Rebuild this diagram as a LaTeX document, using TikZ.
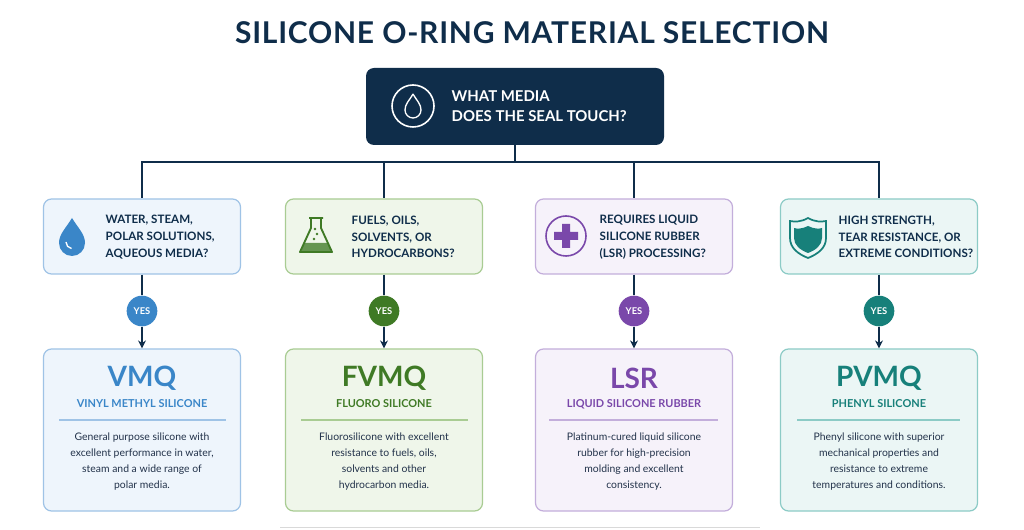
\documentclass[tikz,border=0pt]{standalone}
\usepackage{fontspec}
\setmainfont{Lato}
\usetikzlibrary{arrows.meta,positioning}

\definecolor{navy}{HTML}{0F2D4A}
\definecolor{ink}{HTML}{22324A}
\definecolor{cblue}{HTML}{3A86C8}
\definecolor{fblue}{HTML}{EEF5FC}
\definecolor{bblue}{HTML}{9FC3E6}
\definecolor{cgreen}{HTML}{3F7A25}
\definecolor{fgreen}{HTML}{EFF6EA}
\definecolor{bgreen}{HTML}{A9CC93}
\definecolor{cpurple}{HTML}{7A48AA}
\definecolor{fpurple}{HTML}{F6F2FA}
\definecolor{bpurple}{HTML}{C3AEDB}
\definecolor{cteal}{HTML}{17807A}
\definecolor{fteal}{HTML}{EBF6F5}
\definecolor{bteal}{HTML}{8CCBC6}

\tikzset{
  qbox/.style={draw=b#1, fill=f#1, line width=0.9pt, rounded corners=6pt,
    minimum width=147.75pt, minimum height=56.25pt},
  rbox/.style={draw=b#1, fill=f#1, line width=0.9pt, rounded corners=6pt,
    minimum width=147.75pt, minimum height=121.5pt},
  qtext/.style={anchor=west, align=left, text=navy, font=\bfseries\fontsize{8.7}{12.6}\selectfont},
  yes/.style={circle, fill=c#1, text=white, minimum size=23pt, inner sep=0pt,
    font=\bfseries\fontsize{7}{8}\selectfont},
  mat/.style={text=c#1, font=\bfseries\fontsize{21}{24}\selectfont},
  sub/.style={text=c#1, font=\bfseries\fontsize{8.2}{9}\selectfont},
  desc/.style={text=ink, align=center, font=\fontsize{7.8}{12}\selectfont},
  link/.style={draw=navy, line width=1pt},
}

\begin{document}
\begin{tikzpicture}[x=0.75pt,y=-0.75pt]
\useasboundingbox (0,0) rectangle (1024,530);
\fill[white] (0,0) rectangle (1024,530);

% title
\node[text=navy, font=\bfseries\fontsize{22.5}{26}\selectfont\addfontfeatures{LetterSpace=2.5}] (title) at (532,33) {SILICONE O-RING MATERIAL SELECTION};

% top question
\node[fill=navy, rounded corners=6pt, minimum width=223.5pt, minimum height=57.75pt] (top) at (515,106.5) {};
\draw[white, line width=1.2pt] (413,106) circle[radius=15.75pt];
\draw[white, line width=1pt] (413,94) .. controls (417,101) and (421,104) .. (421,110) arc[start angle=0,end angle=-180,radius=6pt] .. controls (405,104) and (409,101) .. (413,94);
\node[anchor=west, align=left, text=white, font=\bfseries\fontsize{11.2}{15}\selectfont] (topq) at (447,106) {WHAT MEDIA\\DOES THE SEAL TOUCH?};

% question boxes
\node[qbox=blue] (q1) at (142,236.5) {};
\node[qbox=green] (q2) at (384,236.5) {};
\node[qbox=purple] (q3) at (634,236.5) {};
\node[qbox=teal] (q4) at (879,236.5) {};

\node[qtext] (q1t) at (101,237) {WATER, STEAM,\\POLAR SOLUTIONS,\\AQUEOUS MEDIA?};
\node[qtext] (q2t) at (347,237) {FUELS, OILS,\\SOLVENTS, OR\\HYDROCARBONS?};
\node[qtext] (q3t) at (595,237) {REQUIRES LIQUID\\SILICONE RUBBER\\(LSR) PROCESSING?};
\node[qtext] (q4t) at (834,237) {HIGH STRENGTH,\\TEAR RESISTANCE, OR\\EXTREME CONDITIONS?};

% icons
\fill[cblue] (72,218) .. controls (78,228) and (85,234) .. (85,243) arc[start angle=0,end angle=-180,radius=9.75pt] .. controls (59,234) and (66,228) .. (72,218);
\draw[white, line width=1pt] (66,242) arc[start angle=180,end angle=260,radius=5pt];
\fill[cgreen!80] (304,243) -- (328,243) -- (331,252) -- (301,252) -- cycle;
\draw[cgreen, line width=1.4pt, line join=round] (309,218) -- (323,218) (311,218) -- (311,228) -- (300,252) -- (332,252) -- (321,228) -- (321,218);
\fill[cgreen] (315,229) circle[radius=1pt] (317,234) circle[radius=1pt] (314,239) circle[radius=1pt];
\draw[cpurple, line width=1.2pt] (566,236) circle[radius=15pt];
\fill[cpurple] (562,224) rectangle (570,248) (554,232) rectangle (578,240);
\fill[cteal] (808,226) .. controls (814,229) and (819,229) .. (822,228) -- (822,238) .. controls (822,245) and (816,250) .. (808,253) .. controls (800,250) and (794,245) .. (794,238) -- (794,228) .. controls (797,229) and (802,229) .. (808,226) -- cycle;
\draw[cteal, line width=1.3pt] (808,218) .. controls (815,222) and (821,222) .. (826,221) -- (826,238) .. controls (826,248) and (818,254) .. (808,258) .. controls (798,254) and (790,248) .. (790,238) -- (790,221) .. controls (795,222) and (801,222) .. (808,218) -- cycle;

% yes markers
\node[yes=blue] (y1) at (142,311) {YES};
\node[yes=green] (y2) at (384,311) {YES};
\node[yes=purple] (y3) at (634,311) {YES};
\node[yes=teal] (y4) at (879,311) {YES};

% result boxes
\node[rbox=blue] (r1) at (142,430) {};
\node[rbox=green] (r2) at (384,430) {};
\node[rbox=purple] (r3) at (634,430) {};
\node[rbox=teal] (r4) at (879,430) {};

\node[mat=blue] (m1) at (142,378) {VMQ};
\node[mat=green] (m2) at (384,378) {FVMQ};
\node[mat=purple] (m3) at (634,378) {LSR};
\node[mat=teal] (m4) at (879,378) {PVMQ};

\node[sub=blue] (s1) at (142,404) {VINYL METHYL SILICONE};
\node[sub=green] (s2) at (384,404) {FLUORO SILICONE};
\node[sub=purple] (s3) at (634,404) {LIQUID SILICONE RUBBER};
\node[sub=teal] (s4) at (879,404) {PHENYL SILICONE};

\draw[bblue, line width=0.8pt] (59,420) -- (226,420);
\draw[bgreen, line width=0.8pt] (301,420) -- (468,420);
\draw[bpurple, line width=0.8pt] (549,420) -- (718,420);
\draw[bteal, line width=0.8pt] (797,420) -- (960,420);

\node[desc] (d1) at (142,462) {General purpose silicone with\\excellent performance in water,\\steam and a wide range of\\polar media.};
\node[desc] (d2) at (384,462) {Fluorosilicone with excellent\\resistance to fuels, oils,\\solvents and other\\hydrocarbon media.};
\node[desc] (d3) at (634,462) {Platinum-cured liquid silicone\\rubber for high-precision\\molding and excellent\\consistency.};
\node[desc] (d4) at (879,462) {Phenyl silicone with superior\\mechanical properties and\\resistance to extreme\\temperatures and conditions.};

% connectors
\coordinate (split) at (515,162);
\draw[link] (top.south) -- (split);
\foreach \i in {1,2,3,4}{
  \draw[link] (split) -| (q\i.north);
  \draw[link] (q\i.south) -- (y\i);
  \draw[link, -{Stealth[length=6pt,width=6pt]}] (y\i) -- (r\i.north);
}

\draw[black!15, line width=0.6pt] (280,527) -- (760,527);
\end{tikzpicture}
\end{document}
